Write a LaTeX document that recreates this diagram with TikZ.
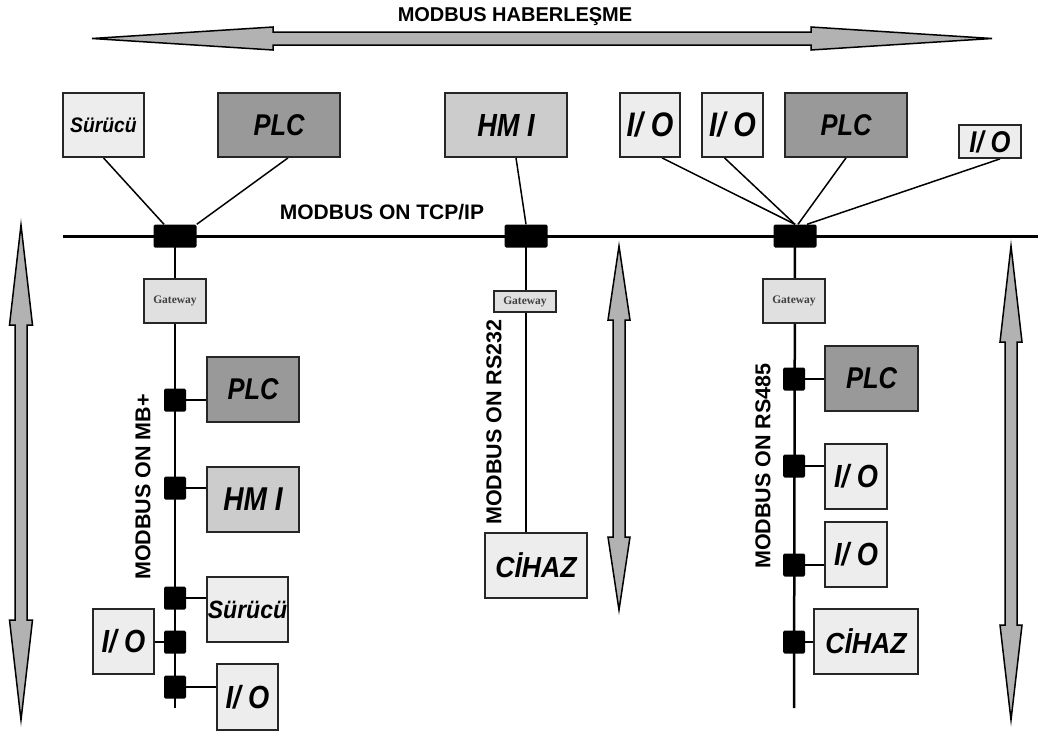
\documentclass[tikz,border=0pt]{standalone}
\usepackage{fontspec}
\setmainfont{Liberation Sans}
\newfontfamily\lab[FakeStretch=0.85]{Liberation Sans}
\newfontfamily\labw[FakeStretch=0.92]{Liberation Sans}
\newfontfamily\gwfont{Liberation Serif}
\newcommand\fsz[1]{\fontsize{#1}{#1}\selectfont}
\pgfdeclarelayer{bg}
\pgfsetlayers{bg,main}
\newcommand\varrow[6]{%
  \draw[garrow] (#1,#2) -- (#1+#6,#3) -- (#1+6,#3) -- (#1+6,#4) -- (#1+#6,#4) -- (#1,#5)
    -- (#1-#6,#4) -- (#1-6,#4) -- (#1-6,#3) -- (#1-#6,#3) -- cycle;}
\newcommand\harrow[6]{%
  \draw[garrow] (#2,#1) -- (#3,#1-#6) -- (#3,#1-6.5) -- (#4,#1-6.5) -- (#4,#1-#6) -- (#5,#1)
    -- (#4,#1+#6) -- (#4,#1+6.5) -- (#3,#1+6.5) -- (#3,#1+#6) -- cycle;}
\begin{document}
\begin{tikzpicture}[x=1pt,y=-1pt,
  box/.style={draw=black!85, line width=1.8pt, inner sep=0pt, anchor=center,
    font=\lab\bfseries\itshape\fsz{30}},
  dark/.style={box, fill=black!40},
  mid/.style={box, fill=black!20},
  light/.style={box, fill=black!7},
  iofont/.style={font=\lab\bfseries\itshape\fsz{#1}},
  gw/.style={draw=black!85, line width=1.5pt, fill=black!12, inner sep=0pt,
    minimum width=62pt, font=\gwfont\bfseries\fsz{11.5}, text=black!75},
  tap/.style={fill=black, rounded corners=1.5pt, inner sep=0pt,
    minimum width=22pt, minimum height=23pt},
  hub/.style={tap, minimum width=43pt},
  wire/.style={line width=1.5pt},
  busl/.style={line width=3pt},
  busv/.style={line width=2.5pt},
  garrow/.style={fill=black!30, draw=black, line width=1.5pt, line join=miter},
  lbl/.style={font=\bfseries\fsz{21}}
]
\useasboundingbox (0,0) rectangle (1038,731);

% title and big arrows
\node[lbl, font=\bfseries\fsz{20}] (title) at (515,17) {MODBUS HABERLEŞME};
\harrow{38.5}{92}{273}{811}{992}{11.5}
\varrow{21}{225}{325}{620}{720}{11.5}
\varrow{619}{246}{320}{537}{610}{11}
\varrow{1011}{246}{342}{625}{720}{11}

% top devices
\node[light, minimum width=81pt, minimum height=64pt, font=\labw\bfseries\itshape\fsz{21}] (s1) at (103.5,125) {Sürücü};
\node[dark, minimum width=122pt, minimum height=64pt] (p1) at (279,125) {PLC};
\node[mid, minimum width=122pt, minimum height=64pt, iofont=32] (h1) at (506,125) {HM I};
\node[light, minimum width=60pt, minimum height=64pt, iofont=34] (io1) at (650,125) {I/ O};
\node[light, minimum width=61pt, minimum height=64pt, iofont=34] (io2) at (732.5,125) {I/ O};
\node[dark, minimum width=122pt, minimum height=64pt] (p2) at (846,125) {PLC};
\node[light, minimum width=62pt, minimum height=33pt, iofont=30] (io3) at (990,141.5) {I/ O};

% TCP/IP bus
\node[lbl] (tcp) at (382,212) {MODBUS ON TCP/IP};
\coordinate (busL) at (63,236);
\coordinate (busR) at (1038,236);
\node[hub] (b1) at (175,236) {};
\node[hub] (b2) at (526,236) {};
\node[hub] (b3) at (795,236) {};

% gateways
\node[gw, minimum height=44pt] (g1) at (175,301) {Gateway};
\node[gw, minimum height=21pt] (g2) at (525,301.5) {Gateway};
\node[gw, minimum height=44pt] (g3) at (794,301) {Gateway};

% left branch (MB+)
\coordinate (e1) at (175,708);
\node[tap] (k1) at (175,400) {};
\node[tap] (k2) at (175,488) {};
\node[tap] (k3) at (175,598) {};
\node[tap] (k4) at (175,642) {};
\node[tap] (k5) at (175,687) {};
\node[dark, minimum width=92pt, minimum height=65pt] (lp) at (253,389.5) {PLC};
\node[mid, minimum width=92pt, minimum height=65pt, iofont=33] (lh) at (253,499.5) {HM I};
\node[light, minimum width=81pt, minimum height=65pt, font=\labw\bfseries\itshape\fsz{25}] (ls) at (247.5,609.5) {Sürücü};
\node[light, minimum width=61pt, minimum height=65pt, iofont=32] (lio1) at (123.5,641.5) {I/ O};
\node[light, minimum width=61pt, minimum height=66pt, iofont=32] (lio2) at (247.5,697) {I/ O};
\node[lbl, rotate=90, font=\bfseries\fsz{21.5}] (mbl) at (143,487) {MODBUS ON MB+};

% middle branch (RS232)
\node[light, minimum width=102pt, minimum height=65pt, font=\labw\bfseries\itshape\fsz{29}] (c1) at (536,565.5) {CİHAZ};
\node[lbl, rotate=90, font=\bfseries\fsz{21.5}] (rs2) at (494,422) {MODBUS ON RS232};

% right branch (RS485)
\coordinate (e3) at (794,708);
\node[tap] (r1) at (794,379) {};
\node[tap] (r2) at (794,466) {};
\node[tap] (r3) at (794,565) {};
\node[tap] (r4) at (794,642) {};
\node[dark, minimum width=93pt, minimum height=65pt] (rp) at (871.5,378.5) {PLC};
\node[light, minimum width=62pt, minimum height=65pt, iofont=32] (rio1) at (856,476.5) {I/ O};
\node[light, minimum width=62pt, minimum height=65pt, iofont=32] (rio2) at (856,554.5) {I/ O};
\node[light, minimum width=104pt, minimum height=65pt, font=\labw\bfseries\itshape\fsz{29}] (rc) at (866,641.5) {CİHAZ};
\node[lbl, rotate=90, font=\bfseries\fsz{21.5}] (rs4) at (763,466) {MODBUS ON RS485};

\begin{pgfonlayer}{bg}
  \draw[busl] (busL) -- (busR);
  \draw[wire] (s1.south) -- ([xshift=-11pt]b1.north);
  \draw[wire] ([xshift=9pt]p1.south) -- (b1.north east);
  \draw[wire] ([xshift=10pt]h1.south) -- (b2.north);
  \draw[wire] ([xshift=12pt]io1.south) -- (b3.north);
  \draw[wire] ([xshift=-8pt]io2.south) -- (b3.north);
  \draw[wire] (p2.south) -- ([xshift=3pt]b3.north);
  \draw[wire] ([xshift=10pt]io3.south) -- ([xshift=12pt]b3.north);
  \draw[busv] (b1.center) -- (e1);
  \draw[busv] (b2.center) -- (b2 |- c1.north);
  \draw[busv] (b3.center) -- (e3);
  \draw[wire] (k1.center) -- (k1 -| lp.west);
  \draw[wire] (k2.center) -- (k2 -| lh.west);
  \draw[wire] (k3.center) -- (k3 -| ls.west);
  \draw[wire] (k4.center) -- (k4 -| lio1.east);
  \draw[wire] (k5.center) -- (k5 -| lio2.west);
  \draw[wire] (r1.center) -- (r1 -| rp.west);
  \draw[wire] (r2.center) -- (r2 -| rio1.west);
  \draw[wire] (r3.center) -- (r3 -| rio2.west);
  \draw[wire] (r4.center) -- (r4 -| rc.west);
\end{pgfonlayer}
\end{tikzpicture}
\end{document}
